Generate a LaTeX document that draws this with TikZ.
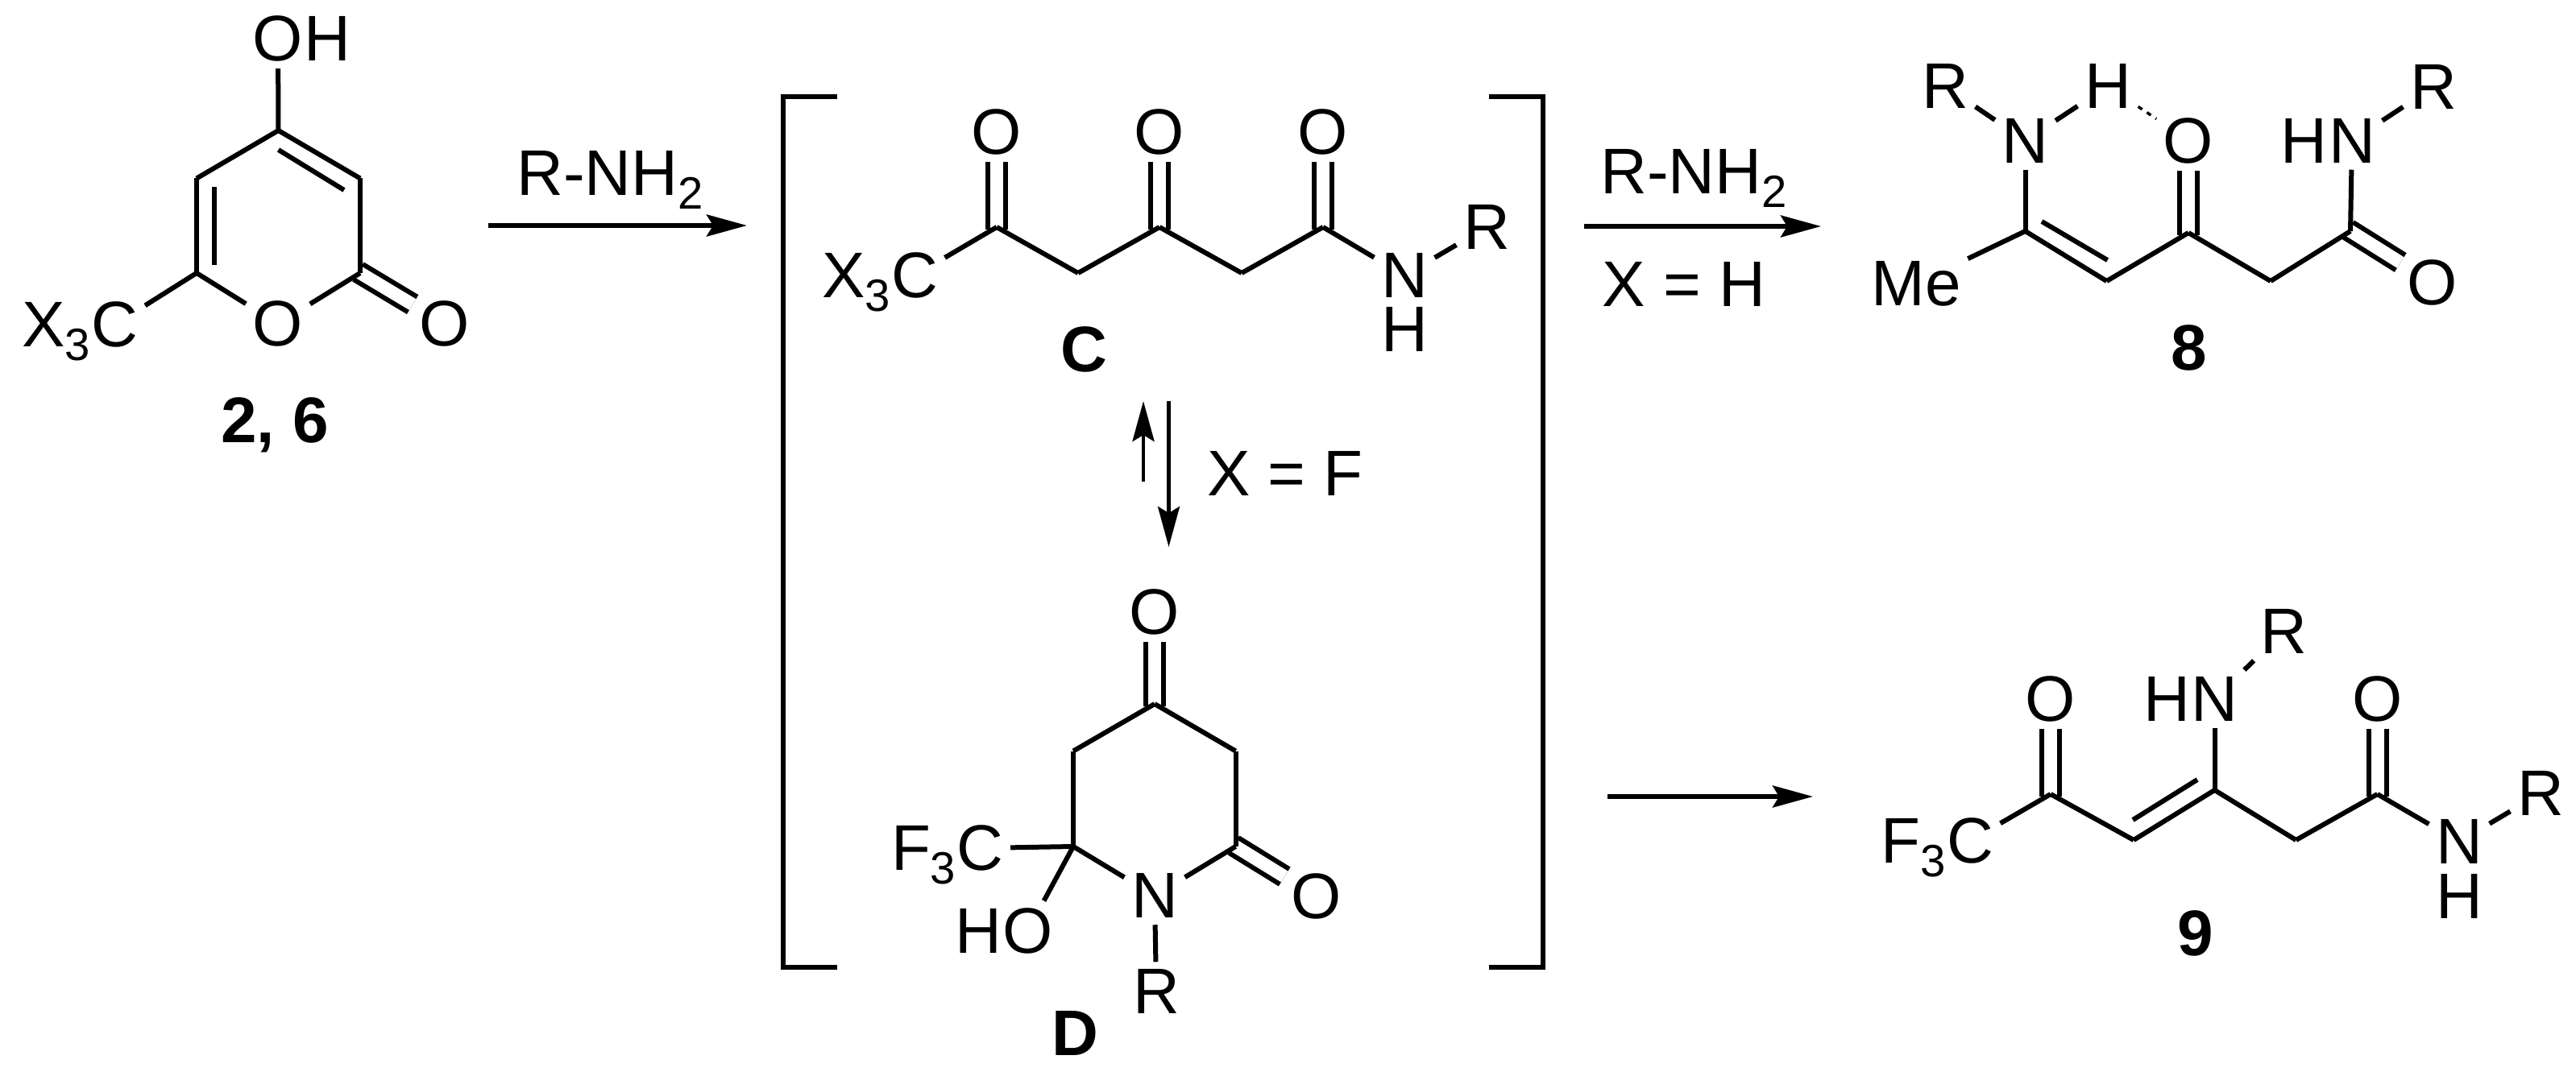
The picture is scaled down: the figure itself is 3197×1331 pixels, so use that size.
\documentclass[tikz,border=0pt]{standalone}
\usepackage{fontspec}
\setmainfont{Liberation Sans}
\usetikzlibrary{arrows.meta,positioning}
\newcommand{\chemsub}[1]{\raisebox{-.21em}{\fontsize{16}{16}\selectfont #1}}

\begin{document}
\begin{tikzpicture}[x=0.01cm,y=-0.01cm,
    chem/.style={font=\fontsize{22.76}{27}\selectfont},
    atom/.style={chem,inner sep=0.08cm},
    txt/.style={chem,inner sep=0pt,anchor=base},
    tag/.style={chem,inner sep=0pt,anchor=base,font=\fontsize{22.76}{27}\selectfont\bfseries},
    bond/.style={line width=0.06cm,line join=miter},
    dbl/.style={double,double distance=0.16cm,shorten <=-0.03cm},
    rxn/.style={line width=0.055cm,-{Stealth[length=0.5cm,width=0.27cm,inset=0.08cm]}},
    eqm/.style={line width=0.045cm,-{Stealth[length=0.5cm,width=0.27cm,inset=0.08cm]}},
    brack/.style={line width=0.065cm,line cap=butt}]
  \useasboundingbox (0,0) rectangle (3197,1331);

  \coordinate (p1) at (345.5,162);
  \coordinate (p2) at (447,221.5);
  \coordinate (p3) at (447,339);
  \coordinate (p5) at (244,339);
  \coordinate (p6) at (244,221.5);
  \coordinate (p7) at (265.5,232);
  \coordinate (p8) at (265.5,329.5);
  \coordinate (p9) at (345.5,186);
  \coordinate (p10) at (427,236);
  \node[atom] (p_oh) at (345,48) {O};
  \node[atom,base right=-0.16cm of p_oh] (p_h) {H};
  \node[atom] (p_o) at (345,402) {O};
  \node[atom] (p_co) at (552,402) {O};
  \node[atom] (p_c) at (142.5,403) {C};
  \node[atom,base left=-0.16cm of p_c] (p_x) {X\chemsub{3}};
  \node[tag] (lab_p) at (341,550) {2, 6};
  \path[bond]
    (p3) edge[dbl] (p_co)
    (p1) edge (p_oh)
         edge (p2)
         edge (p6)
    (p2) edge (p3)
    (p3) edge (p_o)
    (p5) edge (p_o)
         edge (p_c)
         edge (p6)
    (p7) edge (p8)
    (p9) edge (p10);

  \coordinate (a1) at (606,280);
  \coordinate (a2) at (927,280);
  \draw[rxn] (a1) -- (a2);
  \node[txt] (amine1) at (757,243) {R-NH\chemsub{2}};

  \coordinate (bl1) at (1039,120);
  \coordinate (bl2) at (972,120);
  \coordinate (bl3) at (972,1201);
  \coordinate (bl4) at (1039,1201);
  \coordinate (br1) at (1848,120);
  \coordinate (br2) at (1915,120);
  \coordinate (br3) at (1915,1201);
  \coordinate (br4) at (1848,1201);
  \draw[brack] (bl1) -- (bl2) -- (bl3) -- (bl4);
  \draw[brack] (br1) -- (br2) -- (br3) -- (br4);

  \coordinate (k1) at (1237,282);
  \coordinate (k2) at (1338,339);
  \coordinate (k3) at (1439,282);
  \coordinate (k4) at (1541,339);
  \coordinate (k5) at (1642,282);
  \node[atom] (k_o1) at (1237,164) {O};
  \node[atom] (k_o3) at (1439,164) {O};
  \node[atom] (k_o5) at (1642,164) {O};
  \node[atom] (k_c) at (1135,342) {C};
  \node[atom,base left=-0.16cm of k_c] (k_x) {X\chemsub{3}};
  \node[atom] (k_n) at (1743,342) {N};
  \node[atom] (k_h) at (1743,409) {H};
  \node[atom] (k_r) at (1845,282) {R};
  \node[tag] (lab_c) at (1345,462) {C};
  \path[bond]
    (k1) edge[dbl] (k_o1)
    (k3) edge[dbl] (k_o3)
    (k5) edge[dbl] (k_o5)
    (k1) edge (k_c)
         edge (k2)
    (k2) edge (k3)
    (k3) edge (k4)
    (k4) edge (k5)
    (k5) edge (k_n)
    (k_n) edge (k_r);

  \coordinate (e1) at (1419,598);
  \coordinate (e2) at (1419,498);
  \coordinate (e3) at (1450.5,498);
  \coordinate (e4) at (1450.5,679);
  \draw[eqm] (e1) -- (e2);
  \draw[eqm] (e3) -- (e4);
  \node[txt] (cond_f) at (1595,615.5) {X = F};

  \coordinate (d1) at (1433,874);
  \coordinate (d2) at (1533.5,932.5);
  \coordinate (d3) at (1533.5,1051);
  \coordinate (d5) at (1332,1051);
  \coordinate (d6) at (1332,932.5);
  \node[atom] (d_o1) at (1433,760) {O};
  \node[atom] (d_n) at (1433,1112) {N};
  \node[atom] (d_o3) at (1634,1113) {O};
  \node[atom] (d_c) at (1216.5,1053) {C};
  \node[atom,base left=-0.16cm of d_c] (d_f) {F\chemsub{3}};
  \node[atom] (d_oh) at (1275.5,1155.5) {O};
  \node[atom,base left=-0.16cm of d_oh] (d_h) {H};
  \node[atom] (d_r) at (1435,1230.5) {R};
  \node[tag] (lab_d) at (1334,1310) {D};
  \path[bond]
    (d1) edge[dbl] (d_o1)
    (d3) edge[dbl] (d_o3)
    (d1) edge (d2)
         edge (d6)
    (d2) edge (d3)
    (d3) edge (d_n)
    (d5) edge (d_n)
         edge (d6)
         edge (d_c)
         edge (d_oh)
    (d_n) edge (d_r);

  \coordinate (a3) at (1966,281);
  \coordinate (a4) at (2260,281);
  \draw[rxn] (a3) -- (a4);
  \node[txt] (amine2) at (2102,241) {R-NH\chemsub{2}};
  \node[txt] (cond_h) at (2090,381) {X = H};

  \coordinate (m1) at (2513.5,287);
  \coordinate (m2) at (2614.5,349);
  \coordinate (m3) at (2716,289);
  \coordinate (m4) at (2818,349);
  \coordinate (m5) at (2917,287);
  \coordinate (m6) at (2534,275);
  \coordinate (m7) at (2615.5,323);
  \node[atom] (m_me) at (2378,352) {Me};
  \node[atom] (m_n) at (2513.5,174.5) {N};
  \node[atom] (m_r1) at (2414,107) {R};
  \node[atom] (m_h) at (2616,107) {H};
  \node[atom] (m_o) at (2716,174.5) {O};
  \node[atom] (m_n2) at (2919,174.5) {N};
  \node[atom,base left=-0.16cm of m_n2] (m_h2) {H};
  \node[atom] (m_r2) at (3020,108) {R};
  \node[atom] (m_co) at (3019,351) {O};
  \node[tag] (lab_8) at (2717,460) {8};
  \path[bond]
    (m3) edge[dbl] (m_o)
    (m5) edge[dbl] (m_co)
    (m1) edge (m_me)
         edge (m_n)
         edge (m2)
    (m2) edge (m3)
    (m3) edge (m4)
    (m4) edge (m5)
    (m5) edge (m_n2)
    (m_n) edge (m_r1)
          edge (m_h)
    (m_n2) edge (m_r2)
    (m6) edge (m7);
  \draw[line width=0.035cm,dash pattern=on 0.06cm off 0.07cm] (m_h) -- (m_o);

  \coordinate (a5) at (1995,989);
  \coordinate (a6) at (2250,989);
  \draw[rxn] (a5) -- (a6);

  \coordinate (n1) at (2545,986);
  \coordinate (n2) at (2648,1043);
  \coordinate (n3) at (2748.5,981);
  \coordinate (n4) at (2849.5,1043);
  \coordinate (n5) at (2950.5,986);
  \coordinate (n6) at (2647,1018);
  \coordinate (n7) at (2727,968);
  \node[atom] (n_c) at (2445,1044) {C};
  \node[atom,base left=-0.16cm of n_c] (n_f) {F\chemsub{3}};
  \node[atom] (n_o1) at (2545,868) {O};
  \node[atom] (n_n) at (2748.5,868) {N};
  \node[atom,base left=-0.16cm of n_n] (n_h) {H};
  \node[atom] (n_r1) at (2834,784) {R};
  \node[atom] (n_o2) at (2950.5,868) {O};
  \node[atom] (n_n2) at (3052,1045) {N};
  \node[atom] (n_h2) at (3052,1113) {H};
  \node[atom] (n_r2) at (3153,985) {R};
  \node[tag] (lab_9) at (2725,1186) {9};
  \path[bond]
    (n1) edge[dbl] (n_o1)
    (n5) edge[dbl] (n_o2)
    (n1) edge (n_c)
         edge (n2)
    (n2) edge (n3)
    (n3) edge (n_n)
         edge (n4)
    (n4) edge (n5)
    (n5) edge (n_n2)
    (n_n) edge (n_r1)
    (n_n2) edge (n_r2)
    (n6) edge (n7);
\end{tikzpicture}
\end{document}
